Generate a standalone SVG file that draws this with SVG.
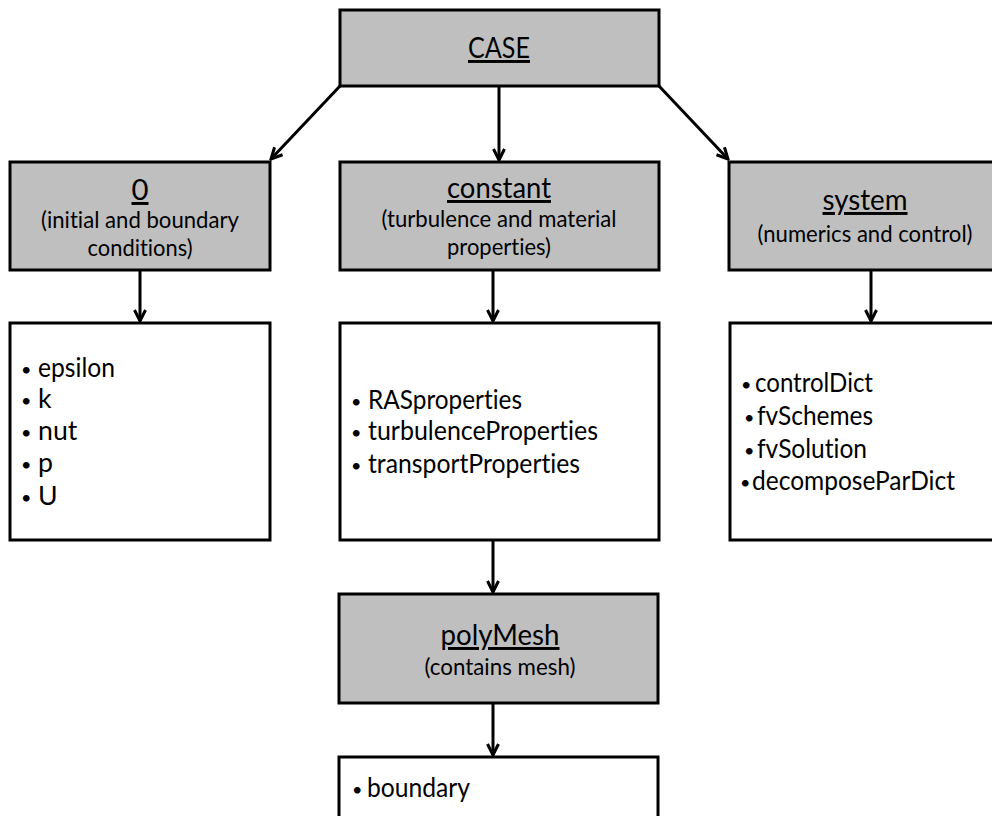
<svg xmlns="http://www.w3.org/2000/svg" width="992" height="816" viewBox="0 0 992 816">
<style>
.hdr{fill:#bfbfbf;stroke:#000;stroke-width:3}
.lst{fill:#fff;stroke:#000;stroke-width:3}
text{font-family:Lato,"Open Sans","Liberation Sans",sans-serif;fill:#000;font-variant-ligatures:none}
.t{font-size:29.3px;text-anchor:middle;text-decoration:underline}
.s{font-size:24px;text-anchor:middle}
.i{font-size:26.7px}
.b{font-size:18px}
.c{stroke:#000;stroke-width:3;fill:none}
</style>
<defs>
<marker id="ah" viewBox="0 0 14 14" refX="12.5" refY="7" markerWidth="14" markerHeight="14" markerUnits="userSpaceOnUse" orient="auto">
<path d="M1.5,1.5 L12.5,7 L1.5,12.5" fill="none" stroke="#000" stroke-width="3" stroke-linejoin="miter"/>
</marker>
</defs>
<rect width="992" height="816" fill="#fff"/>
<g id="connectors">
<line class="c" x1="340" y1="86" x2="271" y2="159" marker-end="url(#ah)"/>
<line class="c" x1="499" y1="86" x2="499" y2="160" marker-end="url(#ah)"/>
<line class="c" x1="659" y1="86" x2="728" y2="159" marker-end="url(#ah)"/>
<line class="c" x1="140" y1="270" x2="140" y2="321" marker-end="url(#ah)"/>
<line class="c" x1="871" y1="270" x2="871" y2="321" marker-end="url(#ah)"/>
<line class="c" x1="493" y1="270" x2="493" y2="321" marker-end="url(#ah)"/>
<line class="c" x1="493" y1="540" x2="493" y2="592" marker-end="url(#ah)"/>
<line class="c" x1="493" y1="703" x2="493" y2="755" marker-end="url(#ah)"/>
</g>
<g id="case">
<rect class="hdr" x="340" y="10" width="319" height="76"/>
<text class="t" x="499" y="58" textLength="62" lengthAdjust="spacingAndGlyphs">CASE</text>
</g>
<g id="zero">
<rect class="hdr" x="10" y="162" width="260" height="108"/>
<text class="t" x="140" y="200">0</text>
<text class="s" x="140" y="228" textLength="198" lengthAdjust="spacingAndGlyphs">(initial and boundary</text>
<text class="s" x="140" y="256" textLength="105" lengthAdjust="spacingAndGlyphs">conditions)</text>
</g>
<g id="constant">
<rect class="hdr" x="340" y="162" width="319" height="108"/>
<text class="t" x="499" y="198" textLength="104" lengthAdjust="spacingAndGlyphs">constant</text>
<text class="s" x="499" y="227" textLength="235" lengthAdjust="spacingAndGlyphs">(turbulence and material</text>
<text class="s" x="499" y="255" textLength="104" lengthAdjust="spacingAndGlyphs">properties)</text>
</g>
<g id="system">
<rect class="hdr" x="729" y="162" width="272" height="108"/>
<text class="t" x="865" y="210" textLength="85" lengthAdjust="spacingAndGlyphs">system</text>
<text class="s" x="865" y="242" textLength="215" lengthAdjust="spacingAndGlyphs">(numerics and control)</text>
</g>
<g id="zero-files">
<rect class="lst" x="10" y="323" width="260" height="217"/>
<text class="i" y="377"><tspan class="b" x="21" dy="-1">•</tspan><tspan x="38" dy="1" textLength="77" lengthAdjust="spacingAndGlyphs">epsilon</tspan></text>
<text class="i" y="408"><tspan class="b" x="21" dy="-1">•</tspan><tspan x="38" dy="1">k</tspan></text>
<text class="i" y="440"><tspan class="b" x="21" dy="-1">•</tspan><tspan x="38" dy="1">nut</tspan></text>
<text class="i" y="472"><tspan class="b" x="21" dy="-1">•</tspan><tspan x="38" dy="1">p</tspan></text>
<text class="i" y="505"><tspan class="b" x="21" dy="-1">•</tspan><tspan x="38" dy="1">U</tspan></text>
</g>
<g id="constant-files">
<rect class="lst" x="340" y="323" width="319" height="217"/>
<text class="i" y="409"><tspan class="b" x="351" dy="-1">•</tspan><tspan x="368" dy="1" textLength="154" lengthAdjust="spacingAndGlyphs">RASproperties</tspan></text>
<text class="i" y="440"><tspan class="b" x="351" dy="-1">•</tspan><tspan x="368" dy="1" textLength="230" lengthAdjust="spacingAndGlyphs">turbulenceProperties</tspan></text>
<text class="i" y="473"><tspan class="b" x="351" dy="-1">•</tspan><tspan x="368" dy="1" textLength="212" lengthAdjust="spacingAndGlyphs">transportProperties</tspan></text>
</g>
<g id="system-files">
<rect class="lst" x="730" y="323" width="271" height="217"/>
<text class="i" y="392"><tspan class="b" x="741" dy="-1">•</tspan><tspan x="755" dy="1" textLength="118" lengthAdjust="spacingAndGlyphs">controlDict</tspan></text>
<text class="i" y="425"><tspan class="b" x="744" dy="-1">•</tspan><tspan x="757" dy="1" textLength="116" lengthAdjust="spacingAndGlyphs">fvSchemes</tspan></text>
<text class="i" y="458"><tspan class="b" x="744" dy="-1">•</tspan><tspan x="757" dy="1" textLength="110" lengthAdjust="spacingAndGlyphs">fvSolution</tspan></text>
<text class="i" y="490"><tspan class="b" x="740" dy="-1">•</tspan><tspan x="752" dy="1" textLength="203" lengthAdjust="spacingAndGlyphs">decomposeParDict</tspan></text>
</g>
<g id="polymesh">
<rect class="hdr" x="339" y="594" width="319" height="109"/>
<text class="t" x="500" y="645" textLength="119" lengthAdjust="spacingAndGlyphs">polyMesh</text>
<text class="s" x="500" y="675" textLength="151" lengthAdjust="spacingAndGlyphs">(contains mesh)</text>
</g>
<g id="polymesh-files">
<rect class="lst" x="339" y="757" width="319" height="80"/>
<text class="i" y="797"><tspan class="b" x="352" dy="-1">•</tspan><tspan x="367" dy="1" textLength="103" lengthAdjust="spacingAndGlyphs">boundary</tspan></text>
</g>
</svg>
